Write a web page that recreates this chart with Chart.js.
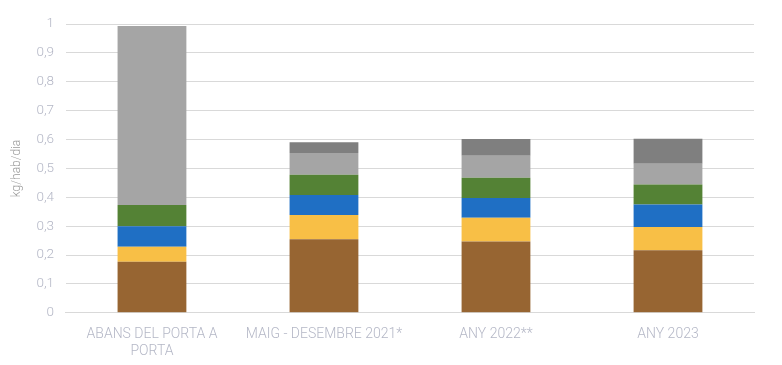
<!DOCTYPE html>
<html>
<head>
<meta charset="utf-8">
<script src="https://cdn.jsdelivr.net/npm/chart.js@4"></script>
<style>
  html, body { margin: 0; padding: 0; background: #fff; }
  #wrap { width: 782px; height: 365px; }
</style>
</head>
<body>
<div id="wrap"><canvas id="chart"></canvas></div>
<script>
// categories (multi-line labels as in the reference)
const categories = [['ABANS DEL PORTA A', 'PORTA'], 'MAIG - DESEMBRE 2021*', 'ANY 2022**', 'ANY 2023'];

// series, bottom to top (kg/hab/dia)
const organica = [0.177, 0.255, 0.247, 0.217];
const envasos  = [0.052, 0.084, 0.082, 0.080];
const paper    = [0.071, 0.069, 0.069, 0.078];
const vidre    = [0.073, 0.070, 0.070, 0.069];
const rebuig   = [0.620, 0.075, 0.076, 0.072];
const altres   = [0.000, 0.038, 0.058, 0.087];

const tickColor = '#b4b7c6';
const fontFamily = "'Roboto', 'Liberation Sans', sans-serif";

const data = {
    labels: categories,
    datasets: [
        { label: 'Orgànica', data: organica, backgroundColor: '#976532' },
        { label: 'Envasos', data: envasos, backgroundColor: '#f8bf46' },
        { label: 'Paper i cartró', data: paper, backgroundColor: '#1f6fc4' },
        { label: 'Vidre', data: vidre, backgroundColor: '#548235' },
        { label: 'Rebuig', data: rebuig, backgroundColor: '#a5a5a5' },
        { label: 'Altres', data: altres, backgroundColor: '#7f7f7f' }
    ]
};

const options = {
    responsive: true,
    maintainAspectRatio: false,
    animation: false,
    layout: { padding: { top: 24, right: 28, left: 4, bottom: 0 } },
    datasets: {
        bar: { categoryPercentage: 1, barPercentage: 0.4 }
    },
    plugins: {
        legend: { display: false },
        tooltip: { enabled: false }
    },
    scales: {
        x: {
            stacked: true,
            grid: { display: false },
            border: { color: '#d9d9d9' },
            ticks: {
                color: tickColor,
                font: { family: fontFamily, size: 14, weight: 300, lineHeight: 1.22 },
                padding: 5,
                maxRotation: 0
            }
        },
        y: {
            stacked: true,
            min: 0,
            max: 1,
            grid: { color: '#d9d9d9', drawTicks: false },
            border: { display: false },
            ticks: {
                stepSize: 0.1,
                color: tickColor,
                padding: 12,
                font: { family: fontFamily, size: 13.5, weight: 300 },
                callback: v => String(Math.round(v * 10) / 10).replace('.', ',')
            },
            title: {
                display: true,
                text: 'kg/hab/dia',
                color: '#9a9a9a',
                font: { family: fontFamily, size: 12, weight: 300 },
                padding: { top: 6, bottom: 0 }
            }
        }
    }
};

new Chart(document.getElementById('chart'), { type: 'bar', data: data, options: options });
</script>
</body>
</html>
